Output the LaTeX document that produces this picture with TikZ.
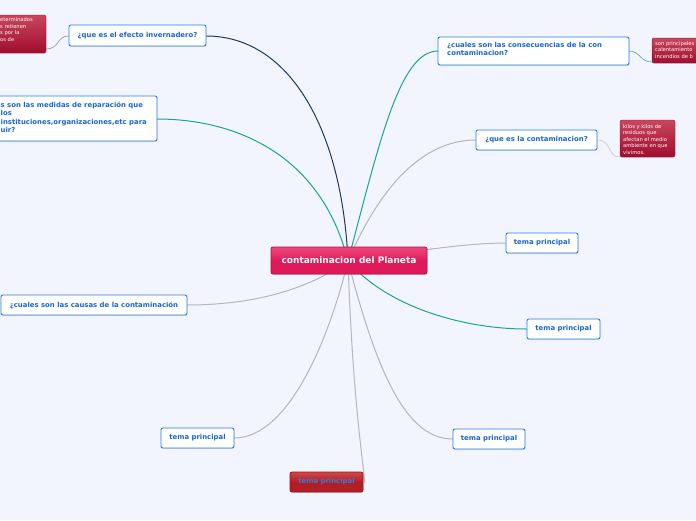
\documentclass[tikz,border=0pt]{standalone}
\usepackage{fontspec}
\setmainfont{DejaVu Sans}
\usetikzlibrary{shadows}
\definecolor{bg}{HTML}{F2F5FD}
\definecolor{tblue}{HTML}{2A7DE1}
\definecolor{ttext}{HTML}{1A66CC}
\definecolor{navy}{HTML}{1F3A5C}
\definecolor{tealc}{HTML}{1AA398}
\definecolor{lgrey}{HTML}{B3B6BE}
\definecolor{notegrey}{HTML}{9AA3B5}
\definecolor{ctop}{HTML}{EE4A7C}
\definecolor{cbot}{HTML}{E01A5A}
\definecolor{cbord}{HTML}{A3143F}
\definecolor{ntop}{HTML}{C9465E}
\definecolor{nbot}{HTML}{A10C2E}
\definecolor{rtop}{HTML}{D04848}
\definecolor{rbot}{HTML}{B31E24}
\definecolor{redtext}{HTML}{2F7BE0}
\tikzset{
  topic/.style={draw=tblue, line width=0.9pt, rounded corners=2pt, fill=white,
    text=ttext, font=\bfseries\fontsize{6.9}{8.4}\selectfont, inner sep=0pt,
    drop shadow={shadow xshift=0.4pt, shadow yshift=-0.8pt, opacity=0.25}},
  central/.style={draw=cbord, line width=0.8pt, rounded corners=2pt,
    top color=ctop, bottom color=cbot, middle color=cbot,
    text=white, font=\bfseries\fontsize{9}{10}\selectfont, inner sep=0pt,
    drop shadow={shadow xshift=0.4pt, shadow yshift=-0.8pt, opacity=0.25}},
  redtopic/.style={draw=rbot!80!black, line width=0.8pt, rounded corners=2pt,
    top color=rtop, bottom color=rbot, middle color=rbot,
    text=redtext, font=\bfseries\fontsize{6.9}{8}\selectfont, inner sep=0pt,
    drop shadow={shadow xshift=0.4pt, shadow yshift=-0.8pt, opacity=0.25}},
  note/.style={rounded corners=2pt, top color=ntop, bottom color=nbot, draw=nbot!90!black,
    line width=0.4pt, inner sep=0pt,
    drop shadow={shadow xshift=0.4pt, shadow yshift=-0.8pt, opacity=0.2}},
  notetext/.style={text=white, font=\fontsize{5.2}{6.5}\selectfont, align=left, inner sep=0pt},
  topictext/.style={text=ttext, font=\bfseries\fontsize{6.9}{8.4}\selectfont, align=left, inner sep=0pt},
  branch/.style={line width=1pt},
}
\begin{document}
\begin{tikzpicture}[x=1pt,y=-1pt]
\useasboundingbox (0,0) rectangle (696,520);
\fill[bg] (0,0) rectangle (696,520);
\clip (0,0) rectangle (696,520);

\coordinate (C) at (348,261);

% connector end points
\coordinate (invE) at (206,36);
\coordinate (medE) at (157,119);
\coordinate (consW) at (438,51);
\coordinate (queW) at (476,140);
\coordinate (t1W) at (506,243);
\coordinate (t2W) at (527,329);
\coordinate (t3W) at (453,439);
\coordinate (t4E) at (234,438);
\coordinate (redE) at (365,483);
\coordinate (causE) at (187,305);

\draw[branch, navy] (C) .. controls (342,130) and (290,36) .. (invE);
\draw[branch, tealc] (C) .. controls (320,150) and (230,119) .. (medE);
\draw[branch, tealc] (C) .. controls (380,140) and (400,51) .. (consW);
\draw[branch, lgrey] (C) .. controls (385,175) and (430,140) .. (queW);
\draw[branch, lgrey] (C) .. controls (420,250) and (470,243) .. (t1W);
\draw[branch, tealc] (C) .. controls (385,305) and (460,329) .. (t2W);
\draw[branch, lgrey] (C) .. controls (380,385) and (410,439) .. (t3W);
\draw[branch, lgrey] (C) .. controls (352,380) and (360,440) .. (redE);
\draw[branch, lgrey] (C) .. controls (330,335) and (290,438) .. (t4E);
\draw[branch, lgrey] (C) .. controls (300,295) and (240,305) .. (causE);

% note connectors
\coordinate (invNote) at (46,49);
\coordinate (consNote) at (652,62);
\coordinate (queNote) at (620,157);
\draw[line width=0.7pt, notegrey] (69,36) .. controls (56,36) and (60,49) .. (invNote);
\draw[line width=0.7pt, tealc!50!lgrey] (629,51) .. controls (640,51) and (640,62) .. (consNote);
\draw[line width=0.7pt, lgrey!70!white] (597,140) .. controls (612,140) and (607,157) .. (queNote);

% central
\node[central, minimum width=156pt, minimum height=27pt] (cen) at (349,260.5) {contaminacion del Planeta};

% topics
\node[topic, minimum width=137pt, minimum height=21pt] (inv) at (137.5,35.5) {¿que es el efecto invernadero?};
\node[topic, minimum width=187pt, minimum height=45pt] (med) at (63.5,118.5) {};
\node[topictext, anchor=north west] (medT) at (0.5,101.5) {s son las medidas de reparación que\\los\\instituciones,organizaciones,etc para\\uir?};
\node[topic, minimum width=191pt, minimum height=28pt] (cons) at (533.5,51) {};
\node[topictext, anchor=north west] (consT) at (447,42) {¿cuales son las consecuencias de la con\\contaminacion?};
\node[topic, minimum width=121pt, minimum height=20pt] (que) at (536.5,140) {¿que es la contaminacion?};
\node[topic, minimum width=72pt, minimum height=20pt] (t1) at (542,243) {tema principal};
\node[topic, minimum width=73pt, minimum height=20pt] (t2) at (563.5,329) {tema principal};
\node[topic, minimum width=72pt, minimum height=20pt] (t3) at (489,439) {tema principal};
\node[topic, minimum width=73pt, minimum height=20pt] (t4) at (197.5,438) {tema principal};
\node[redtopic, minimum width=73pt, minimum height=20pt] (red) at (326.5,482) {tema principal};
\node[topic, minimum width=186pt, minimum height=20pt] (caus) at (94,305) {¿cuales son las causas de la contaminación};

% notes
\node[note, minimum width=86pt, minimum height=38pt] (n1) at (3,34) {};
\node[notetext, anchor=north west] (n1T) at (0,17.5) {eterminados\\s retienen\\s por la\\os de};
\node[note, minimum width=88pt, minimum height=25pt] (n2) at (696,50.5) {};
\node[notetext, anchor=north west] (n2T) at (655,41) {son principales\\calentamiento\\incendios de b};
\node[note, minimum width=55pt, minimum height=37pt] (n3) at (647.5,138.5) {};
\node[notetext, anchor=north west] (n3T) at (623,124) {kilos y kilos de\\residuos que\\afectan el medio\\ambiente en que\\vivimos.};
\end{tikzpicture}
\end{document}
